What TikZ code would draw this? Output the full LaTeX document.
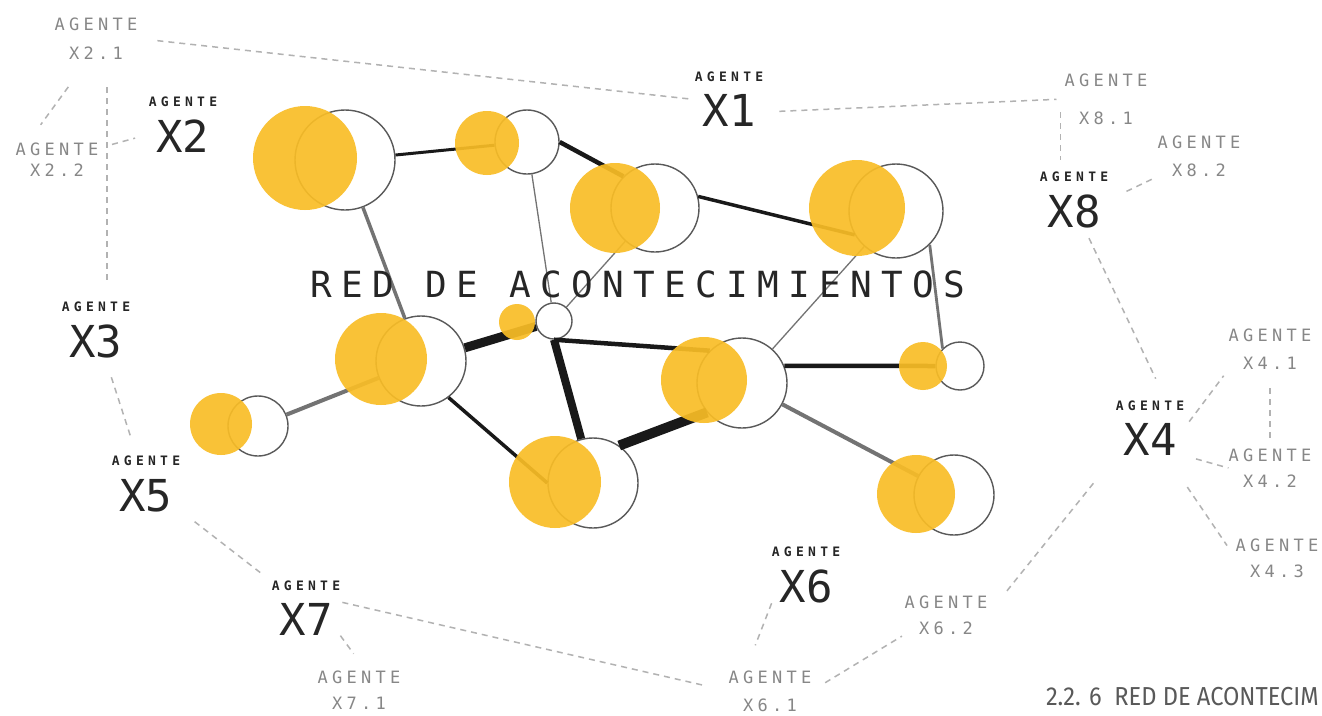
\documentclass[tikz,border=0pt]{standalone}
\usepackage{fontspec}
\setmonofont{DejaVu Sans Mono}
\newfontfamily\tagfont[LetterSpace=33]{DejaVu Sans Mono}
\newfontfamily\subfont[LetterSpace=25]{DejaVu Sans Mono}
\newfontfamily\titlefont[LetterSpace=26]{DejaVu Sans Mono}
\newfontfamily\capfont[FakeStretch=0.91]{Fira Sans}
\definecolor{amber}{HTML}{F9BD26}

\newcommand{\agente}[2][12pt]{{\tagfont\bfseries\fontsize{13}{0}\selectfont AGENTE}\\[#1]{\ttfamily\fontsize{44}{0}\selectfont #2}}
\newcommand{\subagente}[2][12pt]{{\subfont\fontsize{17}{0}\selectfont AGENTE}\\[#1]{\subfont\fontsize{17}{0}\selectfont #2}}

\begin{document}
\begin{tikzpicture}[x=1pt, y=-1pt,
  event/.style={circle, draw=black!65, line width=1.4pt, fill=white, inner sep=0pt, minimum size=#1},
  halo/.style={circle, fill=amber, fill opacity=0.92, inner sep=0pt, minimum size=#1},
  tie/.style={line width=#1, draw=black!90},
  greytie/.style={line width=#1, draw=black!55},
  agent/.style={align=center, inner sep=0pt, text=black!85, font=\fontsize{10}{0}\selectfont},
  subagent/.style={agent, text=black!47},
  link/.style={draw=black!30, line width=1.5pt, dash pattern=on 6pt off 5pt}]
\path[use as bounding box, fill=white] (0,0) rectangle (1322,715);

% events
\node[event=100] (e1) at (345,160) {};
\node[event=64] (e2) at (527,142) {};
\node[event=88] (e3) at (655,208) {};
\node[event=94] (e4) at (896,211) {};
\node[event=36] (e5) at (554,321) {};
\node[event=90] (e6) at (421,361) {};
\node[event=60] (e7) at (258,426) {};
\node[event=90] (e8) at (593,483) {};
\node[event=90] (e9) at (742,383) {};
\node[event=48] (e10) at (960,366) {};
\node[event=80] (e11) at (954,495) {};

% ties
\draw[tie=3] (e1) -- (e2);
\draw[tie=4.5] (e2.east) -- (e3.135);
\draw[tie=3.5] (e3.15) -- (e4.210);
\draw[greytie=1.3] (e2) -- (e5);
\draw[greytie=1.3] (e3) -- (e5);
\draw[greytie=1.3] (e4) -- (e9);
\draw[greytie=2.8] (e4.south east) -- (e10.north west);
\draw[greytie=3.5] (e1) -- (e6);
\draw[tie=9] (e6) -- (e5);
\draw[greytie=4] (e6) -- (e7);
\draw[tie=3.5] (e6.-53) -- (e8.west);
\draw[tie=8] (e5.south) -- (e8.105);
\draw[tie=4.5] (e5.south) -- (e9.north west);
\draw[tie=10] (e8.55) -- (e9.220);
\draw[tie=4.5] (e9.22) -- (e10.west);
\draw[greytie=4] (e9) -- (e11);

\node[inner sep=0pt, text=black!85, font=\titlefont\fontsize{36}{36}\selectfont] (title) at (638,284) {RED DE ACONTECIMIENTOS};

% halos
\node[halo=104] (h1) at (305,158) {};
\node[halo=64] (h2) at (487,143) {};
\node[halo=90] (h3) at (615,208) {};
\node[halo=96] (h4) at (857,208) {};
\node[halo=36] (h5) at (517,322) {};
\node[halo=92] (h6) at (381,359) {};
\node[halo=62] (h7) at (221,424) {};
\node[halo=92] (h8) at (555,482) {};
\node[halo=86] (h9) at (704,380) {};
\node[halo=48] (h10) at (923,366) {};
\node[halo=78] (h11) at (916,494) {};

% agents
\node[agent] (x1) at (729,99.5) {\agente{X1}};
\node[agent] (x2) at (183,125) {\agente{X2}};
\node[agent] (x3) at (96,330) {\agente{X3}};
\node[agent] (x5) at (146,484) {\agente{X5}};
\node[agent] (x7) at (306,608) {\agente{X7}};
\node[agent] (x6) at (806,575) {\agente{X6}};
\node[agent] (x8) at (1074,200) {\agente{X8}};
\node[agent] (x4) at (1150,428) {\agente{X4}};

\node[subagent] (x21) at (96,38.5) {\subagente[15pt]{X2.1}};
\node[subagent] (x22) at (57,159.5) {\subagente[7pt]{X2.2}};
\node[subagent] (x81) at (1106,99) {\subagente[24pt]{X8.1}};
\node[subagent] (x82) at (1199,156) {\subagente[14pt]{X8.2}};
\node[subagent] (x41) at (1270,349) {\subagente[14pt]{X4.1}};
\node[subagent] (x42) at (1270,468) {\subagente{X4.2}};
\node[subagent] (x43) at (1277,558) {\subagente{X4.3}};
\node[subagent] (x62) at (946,615) {\subagente{X6.2}};
\node[subagent] (x61) at (770,691) {\subagente[14pt]{X6.1}};
\node[subagent] (x71) at (359,690) {\subagente{X7.1}};

% links
\draw[link, shorten <=20pt, shorten >=6pt] (x21.east) -- (x1.west);
\draw[link, shorten <=16pt, shorten >=8pt] (x1.-20) -- (x81.west);
\draw[link, shorten <=34pt, shorten >=22pt] (x21.-110) -- (x22.150);
\draw[link, shorten <=28pt, shorten >=22pt] ([xshift=11pt]x21.south) -- ([xshift=11pt]x21.south |- x3.north);
\draw[link, shorten <=14pt, shorten >=14pt] (x22) -- (x2);
\draw[link, shorten <=20pt, shorten >=20pt] (x3) -- (x5);
\draw[link, shorten <=18pt, shorten >=12pt] (x5) -- (x7);
\draw[link, shorten <=2pt, shorten >=27pt] (x7.10) -- (x61.west);
\draw[link, shorten >=21pt] (x7.south east) -- (x71.70);
\draw[link, shorten >=27pt] (x6.south west) -- (x61.140);
\draw[link, shorten <=16pt, shorten >=3pt] (x61.east) -- (x62.south west);
\draw[link, shorten <=31pt, shorten >=33pt] (x62.east) -- (x4.south west);
\draw[link, shorten <=11pt, shorten >=24pt] (x8.-70) -- (x4.60);
\draw[link, shorten <=13pt, shorten >=12pt] ([xshift=-4pt]x81.west) -- ([xshift=-4pt]x81.west |- x8.north);
\draw[link, shorten <=20pt, shorten >=5pt] (x8.east) -- (x82.south west);
\draw[link, shorten <=8pt, shorten >=8pt] (x4.east) -- (x41.south west);
\draw[link, shorten <=19pt, shorten >=8pt] (x41.south) -- (x42.north);
\draw[link, shorten <=12pt] (x4.south east) -- (x42.west);
\draw[link, shorten <=38pt, shorten >=15pt] (x4.-60) -- (x43.west);

\node[anchor=east, inner sep=0pt, text=black!65, font=\capfont\fontsize{26}{26}\selectfont] (caption) at (1319,697) {2.2. 6\ \ RED DE ACONTECIM};
\end{tikzpicture}
\end{document}
